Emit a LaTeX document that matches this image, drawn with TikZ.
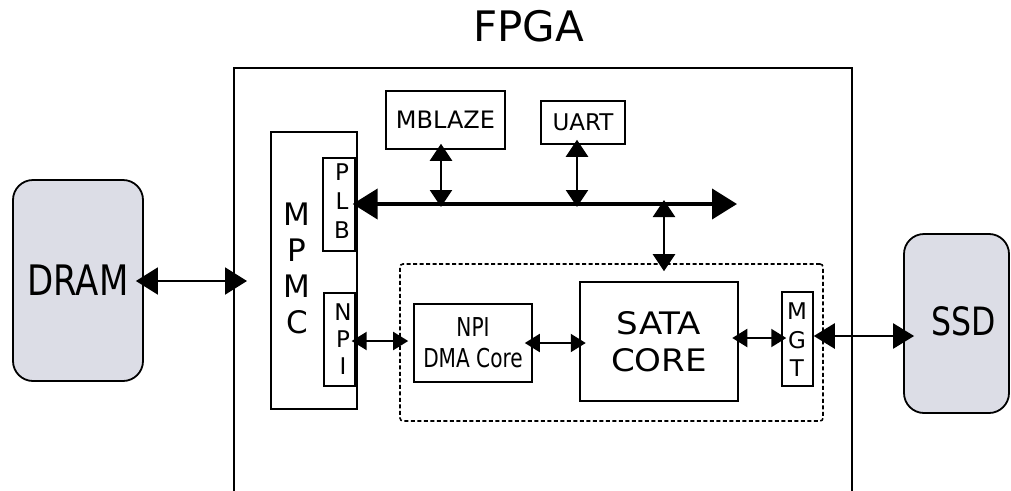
\documentclass[tikz,border=0pt]{standalone}
\usepackage{fontspec}
\setmainfont{DejaVu Sans}
\newfontfamily\condfont[FakeStretch=0.9]{DejaVu Sans Condensed}
\newfontfamily\narrowfont[FakeStretch=0.86]{DejaVu Sans Condensed}
\newfontfamily\widefont[FakeStretch=1.1]{DejaVu Sans}
\usetikzlibrary{arrows.meta}
\definecolor{devfill}{RGB}{220,221,230}
\begin{document}
\begin{tikzpicture}[x=1pt,y=-1pt,
  box/.style={draw, line width=1.6pt, inner sep=0pt, align=center},
  thinbox/.style={draw, line width=1.3pt, inner sep=0pt},
  devbox/.style={draw, line width=1.8pt, fill=devfill, rounded corners=20pt, inner sep=0pt},
  lbl/.style={inner sep=0pt, align=center},
  busarr/.style={line width=4pt, {Triangle[length=25pt,width=30pt]}-{Triangle[length=25pt,width=30pt]}},
  bigarr/.style={line width=2pt, {Triangle[length=22pt,width=27pt]}-{Triangle[length=22pt,width=27pt]}},
  ssdarr/.style={line width=2.5pt, {Triangle[length=21pt,width=25pt]}-{Triangle[length=21pt,width=25pt]}},
  varr/.style={line width=2.5pt, {Triangle[length=17pt,width=22pt]}-{Triangle[length=17pt,width=22pt]}},
  smallarr/.style={line width=2pt, {Triangle[length=15pt,width=18pt]}-{Triangle[length=15pt,width=18pt]}}
]
\useasboundingbox (0,0) rectangle (1011,490);

% FPGA outline (open at bottom)
\draw[line width=1.5pt] (234,495) -- (234,68) -- (852,68) -- (852,495);
\node[lbl, font=\fontsize{42}{50}\selectfont] (fpga) at (528.5,26) {FPGA};

% external devices
\node[devbox, minimum width=130pt, minimum height=201pt,
      font=\condfont\fontsize{42}{48}\selectfont] (dram) at (78,280.5) {DRAM};
\node[devbox, minimum width=105pt, minimum height=179pt] (ssd) at (956.5,323.5) {};
\node[lbl, font=\condfont\fontsize{39}{45}\selectfont] (ssdtext) at (964,321) {SSD};

% MPMC
\node[thinbox, minimum width=86pt, minimum height=277pt] (mpmc) at (314,270.5) {};
\node[lbl, font=\fontsize{31}{36}\selectfont] (mpmctext) at (297,268) {M\\P\\M\\C};
\node[thinbox, minimum width=32pt, minimum height=93pt] (plb) at (339,204.5) {};
\node[lbl, font=\fontsize{23}{29}\selectfont] (plbtext) at (342,201) {P\\L\\B};
\node[thinbox, minimum width=31pt, minimum height=93pt] (npi) at (339.5,339.5) {};
\node[lbl, font=\fontsize{23}{27}\selectfont] (npitext) at (343,339) {N\\P\\I};

% bus peripherals
\node[box, minimum width=119pt, minimum height=58pt,
      font=\fontsize{24}{28}\selectfont] (mblaze) at (445.5,120) {MBLAZE};
\node[box, minimum width=84pt, minimum height=43pt,
      font=\fontsize{23}{27}\selectfont] (uart) at (583,122.5) {UART};

% dashed SATA subsystem
\node[draw, line width=1.6pt, dash pattern=on 4pt off 2.5pt, rounded corners=3pt,
      minimum width=423pt, minimum height=157pt, inner sep=0pt] (sub) at (611.5,342.5) {};
\node[box, minimum width=118pt, minimum height=78pt,
      font=\narrowfont\fontsize{26}{31}\selectfont] (dma) at (473,343) {NPI\\DMA Core};
\node[box, line width=2.5pt, minimum width=158pt, minimum height=119pt,
      font=\widefont\fontsize{31}{37}\selectfont] (sata) at (659,341.5) {SATA\\CORE};
\node[thinbox, line width=1.5pt, minimum width=31pt, minimum height=94pt] (mgt) at (797.5,339) {};
\node[lbl, font=\fontsize{23}{28.5}\selectfont] (mgttext) at (797,340) {M\\G\\T};

% connectors
\coordinate (fpgain) at (247,281);
\draw[bigarr, shorten <=-8pt] (dram.east |- fpgain) -- (fpgain);

\coordinate (busend) at (737,204);
\draw[busarr, shorten <=-3pt] (plb.east |- busend) -- (busend);

\draw[varr, shorten <=-6pt, shorten >=-3pt] ([xshift=-4.5pt]mblaze.south) -- ([xshift=-4.5pt]mblaze.south |- busend);
\draw[varr, shorten <=-5pt, shorten >=-3pt] ([xshift=-6pt]uart.south) -- ([xshift=-6pt]uart.south |- busend);
\coordinate (bustap) at (664,204);
\draw[varr, shorten <=-4pt, shorten >=-8pt] (bustap) -- (bustap |- sub.north);

\coordinate (npiy) at (0,341);
\draw[smallarr, shorten <=-4pt, shorten >=-9pt] (npi.east |- npiy) -- (sub.west |- npiy);
\draw[smallarr, shorten <=-8pt, shorten >=-7pt] (dma.east) -- (dma.east -| sata.west);
\coordinate (mgty) at (0,338);
\draw[smallarr, shorten <=-7pt, shorten >=-5pt] (sata.east |- mgty) -- (mgt.west |- mgty);
\coordinate (ssdy) at (0,336);
\draw[ssdarr, shorten >=-11pt] (mgt.east |- ssdy) -- (ssd.west |- ssdy);
\end{tikzpicture}
\end{document}
